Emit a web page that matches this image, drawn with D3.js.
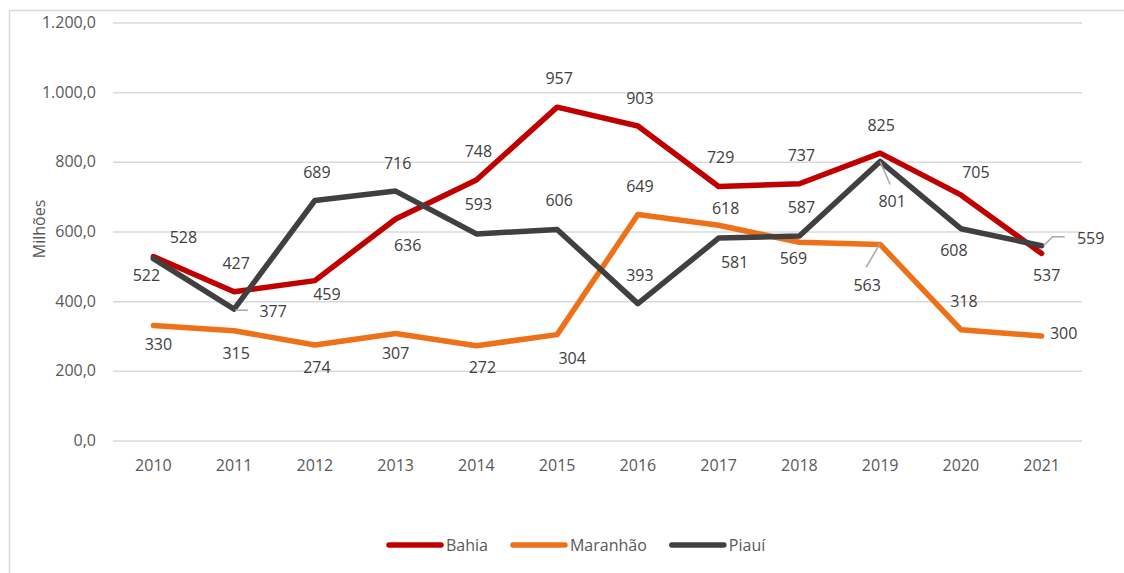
<!DOCTYPE html>
<html>
<head>
<meta charset="utf-8">
<script src="https://cdn.jsdelivr.net/npm/d3@7"></script>
<style>
  body { margin: 0; background: #fff; }
  svg { display: block; font-family: "Open Sans", sans-serif; }
</style>
</head>
<body>
<svg id="chart" width="1124" height="573"></svg>
<script>
// ── Data ───────────────────────────────────────────────────────────────────
const YEARS    = ["2010","2011","2012","2013","2014","2015","2016","2017","2018","2019","2020","2021"];
const BAHIA    = [528, 427, 459, 636, 748, 957, 903, 729, 737, 825, 705, 537];
const MARANHAO = [330, 315, 274, 307, 272, 304, 649, 618, 569, 563, 318, 300];
const PIAUI    = [522, 377, 689, 716, 593, 606, 393, 581, 587, 801, 608, 559];
const Y_TICKS  = [0, 200, 400, 600, 800, 1000, 1200];

const SERIES = [
    { name: "Bahia",    values: BAHIA,    color: "#C00000" },
    { name: "Maranhão", values: MARANHAO, color: "#EC7118" },
    { name: "Piauí",    values: PIAUI,    color: "#404040" },
];

// label placement (offset of the label centre from its point), like the dragged Excel labels
const LABEL_OFFSETS = {
    "Bahia":    [[30,-20],[2,-29],[12,13],[12,26],[2,-29],[2,-29],[2,-28],[2,-30],[2,-29],[1,-28],[15,-23],[5,22]],
    "Maranhão": [[5,18],[2,22],[2,22],[0,19],[6,21],[15,23],[2,-28],[7,-17],[-6,16],[-13,41],[3,-29],[22,-3]],
    "Piauí":    [[-7,16],[39,2],[2,-28],[2,-28],[2,-30],[2,-29],[2,-29],[16,24],[2,-29],[12,40],[-7,21],[49,-8]],
};
// leader lines: series, index, polyline relative to the point
const LEADERS = [
    { s: "Piauí",    i: 1,  pts: [[1,1],[14,1]] },
    { s: "Piauí",    i: 9,  pts: [[0,0],[10,23]] },
    { s: "Maranhão", i: 9,  pts: [[-14,23],[0,-1]] },
    { s: "Piauí",    i: 11, pts: [[2,0],[11,-9],[23,-9]] },
];

// ── Setup ──────────────────────────────────────────────────────────────────
const svg = d3.select("#chart");
const fmt = d3.formatLocale({ decimal: ",", thousands: ".", grouping: [3], currency: ["R$", ""] }).format(",.1f");

const x = d3.scaleBand().domain(YEARS).range([113, 1082]).padding(0);
const cx = d => x(d) + x.bandwidth() / 2;
const y = d3.scaleLinear().domain([0, 1200]).range([440.5, 22.5]);

// outer frame
svg.append("rect")
    .attr("x", 9.5).attr("y", 10.5).attr("width", 1300).attr("height", 700)
    .attr("fill", "none").attr("stroke", "#D9D9D9").attr("stroke-width", 1.5);

// gridlines + y labels
const yAxis = svg.append("g").attr("transform", "translate(113,0)")
    .call(d3.axisLeft(y).tickValues(Y_TICKS).tickFormat(fmt).tickSize(-969).tickPadding(17));
yAxis.select(".domain").remove();
yAxis.selectAll(".tick line").attr("stroke", "#D9D9D9").attr("stroke-width", 1.5);
yAxis.selectAll(".tick text").attr("fill", "#595959").attr("font-size", 16)
    .attr("font-family", "Open Sans, sans-serif");

// x labels
const xAxis = svg.append("g").attr("transform", "translate(0,440.5)")
    .call(d3.axisBottom(x).tickSize(0).tickPadding(19));
xAxis.select(".domain").remove();
xAxis.selectAll(".tick text").attr("fill", "#595959").attr("font-size", 16)
    .attr("font-family", "Open Sans, sans-serif");

// y title
svg.append("text")
    .attr("transform", "translate(39,229) rotate(-90)")
    .attr("text-anchor", "middle").attr("dominant-baseline", "central")
    .attr("fill", "#595959").attr("font-size", 16)
    .text("Milhões");

// ── Lines ──────────────────────────────────────────────────────────────────
const line = d3.line().x((d, i) => cx(YEARS[i])).y(d => y(d));

SERIES.forEach(s => {
    svg.append("path")
        .datum(s.values)
        .attr("fill", "none")
        .attr("stroke", s.color)
        .attr("stroke-width", 5.5)
        .attr("stroke-linejoin", "round")
        .attr("stroke-linecap", "round")
        .attr("d", line);
});

// leader lines
const byName = Object.fromEntries(SERIES.map(s => [s.name, s]));
LEADERS.forEach(l => {
    const px = cx(YEARS[l.i]), py = y(byName[l.s].values[l.i]);
    svg.append("path")
        .attr("fill", "none").attr("stroke", "#A6A6A6").attr("stroke-width", 1.5)
        .attr("d", d3.line()(l.pts.map(p => [px + p[0], py + p[1]])));
});

// data labels
SERIES.forEach(s => {
    svg.append("g").selectAll("text")
        .data(s.values).join("text")
        .attr("x", (d, i) => cx(YEARS[i]) + LABEL_OFFSETS[s.name][i][0])
        .attr("y", (d, i) => y(d) + LABEL_OFFSETS[s.name][i][1])
        .attr("text-anchor", "middle")
        .attr("dominant-baseline", "central")
        .attr("fill", "#404040")
        .attr("font-size", 16)
        .text(d => d);
});

// ── Legend ─────────────────────────────────────────────────────────────────
const legend = svg.append("g").attr("transform", "translate(387,545)");
let lx = 0;
SERIES.forEach(s => {
    const g = legend.append("g").attr("transform", `translate(${lx},0)`);
    g.append("line")
        .attr("x1", 2).attr("x2", 54).attr("y1", 0).attr("y2", 0)
        .attr("stroke", s.color).attr("stroke-width", 5.5).attr("stroke-linecap", "round");
    const t = g.append("text")
        .attr("x", 59).attr("y", 0)
        .attr("dominant-baseline", "central")
        .attr("fill", "#595959").attr("font-size", 16)
        .text(s.name);
    lx += 59 + t.node().getComputedTextLength() + 23;
});
</script>
</body>
</html>
